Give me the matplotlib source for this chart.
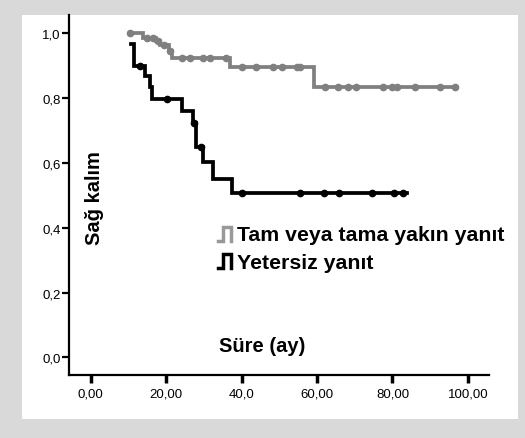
import numpy as np
import matplotlib
matplotlib.use("Agg")
import matplotlib.pyplot as plt
from matplotlib.patches import Rectangle
from matplotlib.lines import Line2D

plt.rcParams['font.family'] = ['Liberation Sans', 'DejaVu Sans']

# --- data ---
group_labels = ["Tam veya tama yakın yanıt", "Yetersiz yanıt"]

gray_times = [10.3, 13.9, 17.3, 18.4, 20.8, 21.5, 36.9, 59.3, 96.6]
gray_surv = [1.0, 0.987, 0.978, 0.966, 0.947, 0.925, 0.898, 0.834, 0.834]
gray_censored = [10.4, 14.8, 16.6, 17.8, 19.5, 21.0, 24.1, 26.3, 29.8, 31.6, 35.8,
                 40.0, 43.8, 48.4, 50.6, 54.6, 55.5, 62.1, 65.5, 68.3, 70.4,
                 77.4, 79.8, 81.2, 86.0, 92.6, 96.6]

black_times = [10.6, 11.6, 14.4, 15.7, 16.3, 24.1, 27.0, 28.0, 29.9, 32.5, 37.4, 83.8]
black_surv = [0.968, 0.901, 0.870, 0.834, 0.798, 0.760, 0.724, 0.648, 0.602, 0.552, 0.507, 0.507]
black_censored = [13.2, 20.1, 27.3, 29.2, 40.0, 55.5, 61.9, 65.7, 74.5, 80.4, 82.9]

x_ticks = [0, 20, 40, 60, 80, 100]
x_ticklabels = ["0,00", "20,00", "40,0", "60,00", "80,00", "100,00"]
y_ticks = [0.0, 0.2, 0.4, 0.6, 0.8, 1.0]
y_ticklabels = ["0,0", "0,2", "0,4", "0,6", "0,8", "1,0"]

W, H = 525, 439
fig = plt.figure(figsize=(W / 100, H / 100), dpi=100)
fig.patch.set_facecolor('#d9d9d9')

def fx(px):
    return px / W

def fy(py):
    return 1 - py / H

# white panel
fig.patches.append(Rectangle((fx(22), fy(420)), fx(518) - fx(22), fy(16) - fy(420),
                             transform=fig.transFigure, facecolor='white',
                             edgecolor='none', zorder=-5))

ax_l, ax_r, ax_t, ax_b = 69, 489, 16, 376
ax = fig.add_axes([fx(ax_l), fy(ax_b), fx(ax_r) - fx(ax_l), fy(ax_t) - fy(ax_b)])
ax.set_zorder(2)
ax.set_facecolor('none')
ax.set_xlim(-5.75, 105.6)
ax.set_ylim(-0.0546, 1.0571)

for s in ['top', 'right']:
    ax.spines[s].set_visible(False)
for s in ['left', 'bottom']:
    ax.spines[s].set_linewidth(1.6)
    ax.spines[s].set_color('black')

ax.set_xticks(x_ticks)
ax.set_xticklabels(x_ticklabels, fontsize=9.5)
ax.set_yticks(y_ticks)
ax.set_yticklabels(y_ticklabels, fontsize=9.5)
ax.tick_params(axis='x', direction='out', length=6, width=2.5, pad=3)
ax.tick_params(axis='y', direction='out', length=5, width=1.6, pad=1)

def step_value(times, surv, t):
    idx = np.searchsorted(times, t, side='right') - 1
    idx = np.clip(idx, 0, len(surv) - 1)
    return np.asarray(surv)[idx]

gray_col = '#808080'
ax.plot(gray_times, gray_surv, drawstyle='steps-post', color=gray_col, lw=2.7,
        solid_joinstyle='miter', zorder=3)
ax.plot(gray_censored, step_value(gray_times, gray_surv, gray_censored), 'o',
        color=gray_col, ms=4.5, zorder=4)

ax.plot(black_times, black_surv, drawstyle='steps-post', color='black', lw=2.7,
        solid_joinstyle='miter', zorder=5)
ax.plot(black_censored, step_value(black_times, black_surv, black_censored), 'o',
        color='black', ms=4.5, zorder=6)

# axis titles inside plot area
fig.text(fx(94), fy(198), "Sağ kalım", rotation=90, ha='center', va='center',
         fontsize=14.5, fontweight='bold', zorder=10)
fig.text(fx(262), fy(347), "Süre (ay)", ha='center', va='center',
         fontsize=14.5, fontweight='bold', zorder=10)

# legend
def icon(x0, y0, color):
    xs = [x0, x0 + 5, x0 + 5, x0 + 13, x0 + 13]
    ys = [y0 + 14, y0 + 14, y0, y0, y0 + 14]
    fig.lines.append(Line2D([fx(v) for v in xs], [fy(v) for v in ys],
                            transform=fig.transFigure, color=color, lw=2.5,
                            solid_joinstyle='miter', zorder=10))

icon(218, 228, '#999999')
icon(218, 255, 'black')
fig.text(fx(237), fy(236), group_labels[0], ha='left', va='center',
         fontsize=15.3, fontweight='bold', zorder=10)
fig.text(fx(237), fy(264), group_labels[1], ha='left', va='center',
         fontsize=15.3, fontweight='bold', zorder=10)

fig.savefig("out.png", dpi=100, facecolor=fig.get_facecolor())
